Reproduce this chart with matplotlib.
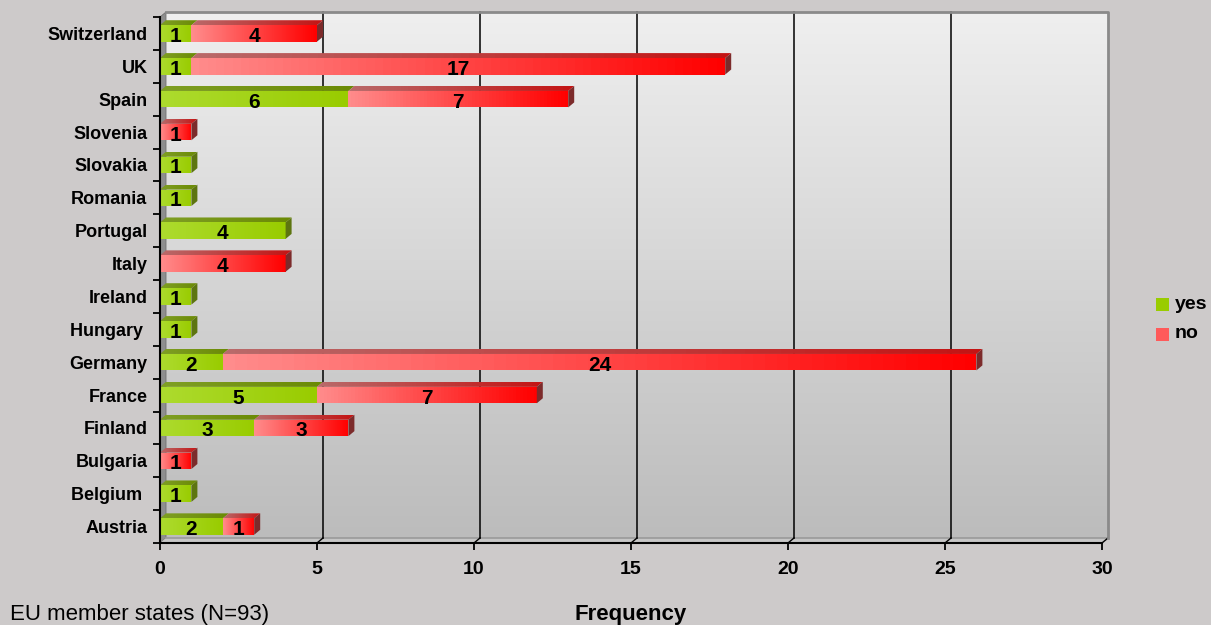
import numpy as np
import matplotlib
matplotlib.use("Agg")
import matplotlib.pyplot as plt
from matplotlib.colors import LinearSegmentedColormap
from matplotlib.patches import Polygon, Rectangle

plt.rcParams['font.family'] = ['Liberation Sans', 'DejaVu Sans']

# data, bottom to top
countries = ['Austria', 'Belgium ', 'Bulgaria', 'Finland', 'France', 'Germany', 'Hungary ',
             'Ireland', 'Italy', 'Portugal', 'Romania', 'Slovakia', 'Slovenia', 'Spain',
             'UK', 'Switzerland']
yes = [2, 1, 0, 3, 5, 2, 1, 1, 0, 4, 1, 1, 0, 6, 1, 1]
no = [1, 0, 1, 3, 7, 24, 0, 0, 4, 0, 0, 0, 1, 7, 17, 4]
xticks = [0, 5, 10, 15, 20, 25, 30]
series = ['yes', 'no']

W, H = 1211, 625
X0, X1 = 160, 1102       # pixel span of x = 0..30
YB, YT = 543, 17         # pixel span of the category axis
DX, DY = 6, 5            # 3d depth in pixels

fig = plt.figure(figsize=(W / 100, H / 100), dpi=100)
fig.patch.set_facecolor('#cdcaca')

# back wall with vertical gradient
bg = fig.add_axes([(X0 + DX) / W, (H - YB + DY) / H, (X1 - X0) / W, (YB - YT) / H], zorder=0)
bg.imshow(np.linspace(0, 1, 256).reshape(-1, 1), aspect='auto', extent=[0, 1, 0, 1],
          cmap=LinearSegmentedColormap.from_list('wall', ['#efefef', '#bcbcbc']))
bg.set_axis_off()

ax = fig.add_axes([X0 / W, (H - YB) / H, (X1 - X0) / W, (YB - YT) / H], zorder=1)
ax.patch.set_alpha(0)
xmax = xticks[-1]
ylo, yhi = -0.5, len(countries) - 0.5
dx = xmax * DX / (X1 - X0)
dy = (yhi - ylo) * DY / (YB - YT)


def shade(verts, c0, c1, z):
    poly = Polygon(verts, closed=True, fc='none', ec='none')
    ax.add_patch(poly)
    xs = [v[0] for v in verts]
    ys = [v[1] for v in verts]
    im = ax.imshow(np.linspace(0, 1, 64).reshape(1, -1), aspect='auto', zorder=z,
                   cmap=LinearSegmentedColormap.from_list('g', [c0, c1]),
                   extent=[min(xs), max(xs), min(ys), max(ys)])
    im.set_clip_path(poly)


# walls, floor and grid
ax.add_patch(Polygon([(0, ylo), (0, yhi), (dx, yhi + dy), (dx, ylo + dy)], closed=True,
                     fc='#8e8e8e', ec='#707070', lw=0.6, clip_on=False, zorder=1))
ax.add_patch(Polygon([(0, ylo), (xmax, ylo), (xmax + dx, ylo + dy), (dx, ylo + dy)], closed=True,
                     fc='#c6c6c6', ec='none', clip_on=False, zorder=1))
ax.plot([dx, xmax + dx], [ylo + dy, ylo + dy], color='#9a9a9a', lw=1.2, clip_on=False, zorder=1)
for v in xticks[1:-1]:
    ax.plot([v + dx, v + dx], [ylo + dy, yhi + dy], color='black', lw=1.1, clip_on=False, zorder=1.5)
for v in xticks[1:]:
    ax.plot([v, v + dx], [ylo, ylo + dy], color='black', lw=1, clip_on=False, zorder=1.5)
ax.plot([dx, xmax + dx, xmax + dx], [yhi + dy, yhi + dy, ylo + dy], color='#8a8a8a', lw=2,
        clip_on=False, zorder=1.5)

# bars
green = dict(front=('#addb2e', '#99cc00'), top=('#7f9f24', '#6b8a05'), side='#5d7510')
red = dict(front=('#ff8c8c', '#ff0000'), top=('#b96a6a', '#c41414'), side='#7c2b2b')
h = 0.5
pos = np.arange(len(countries))
yb = ax.barh(pos, yes, height=h, color='none', zorder=3)
nb = ax.barh(pos, no, left=yes, height=h, color='none', zorder=3)

for i in range(len(countries)):
    segs = [(yb[i], yes[i], green), (nb[i], no[i], red)]
    segs = [s for s in segs if s[1] > 0]
    for k, (rect, val, col) in enumerate(segs):
        x, y = rect.get_x(), rect.get_y()
        w, hh = rect.get_width(), rect.get_height()
        shade([(x, y), (x + w, y), (x + w, y + hh), (x, y + hh)], *col['front'], 3)
        shade([(x, y + hh), (x + w, y + hh), (x + w + dx, y + hh + dy), (x + dx, y + hh + dy)],
              *col['top'], 3)
        if k == len(segs) - 1:
            ax.add_patch(Polygon([(x + w, y), (x + w + dx, y + dy), (x + w + dx, y + hh + dy),
                                  (x + w, y + hh)], closed=True, fc=col['side'], ec='none', zorder=3))
        ax.text(x + w / 2, y + hh / 2 - 0.03, str(val), ha='center', va='center_baseline',
                fontsize=15, fontweight='bold', zorder=5)

ax.set_xlim(0, xmax)
ax.set_ylim(ylo, yhi)

# axes
for s in ['top', 'right']:
    ax.spines[s].set_visible(False)
for s in ['left', 'bottom']:
    ax.spines[s].set_color('black')
    ax.spines[s].set_linewidth(1.5)
    ax.spines[s].set_zorder(4)
ax.set_yticks(pos)
ax.set_yticklabels(countries, fontsize=13, fontweight='bold')
ax.tick_params(axis='y', which='major', length=0, pad=9)
ax.set_yticks(np.arange(ylo, yhi + 0.1, 1), minor=True)
ax.tick_params(axis='y', which='minor', length=5, width=1.3, color='black')
ax.set_xticks(xticks)
ax.set_xticklabels([str(t) for t in xticks], fontsize=14, fontweight='bold')
ax.tick_params(axis='x', length=5, width=1.3, pad=8)

fig.text(10 / W, 5 / H, 'EU member states (N=93)', fontsize=16, va='baseline')
fig.text((X0 + X1) / 2 / W, 5 / H, 'Frequency', fontsize=16, fontweight='bold',
         ha='center', va='baseline')

# legend
for j, (name, c) in enumerate(zip(series, ['#99cc00', '#ff5a5a'])):
    yc = 304 + 30 * j
    fig.patches.append(Rectangle((1156 / W, (H - yc - 6.5) / H), 13 / W, 13 / H,
                                 transform=fig.transFigure, fc=c, ec='none'))
    fig.text(1175 / W, (H - yc) / H, name, fontsize=14, fontweight='bold', va='center')

fig.savefig('out.png', dpi=100, facecolor=fig.get_facecolor())
